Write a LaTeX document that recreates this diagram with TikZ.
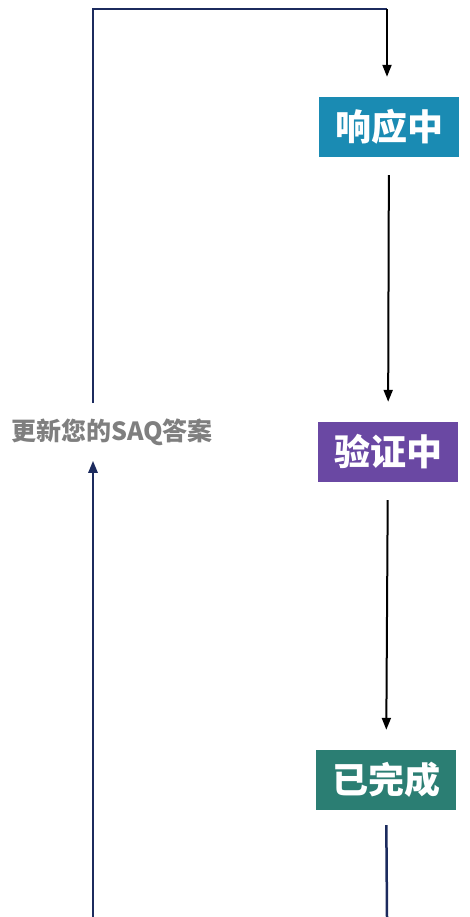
\documentclass[tikz,border=0pt]{standalone}
\usepackage{fontspec}
\newfontfamily\cjk{Noto Sans CJK SC}
\usetikzlibrary{positioning,arrows.meta}

\definecolor{respblue}{HTML}{1A8BB3}
\definecolor{verpurple}{HTML}{6A48A3}
\definecolor{donegreen}{HTML}{2B7E73}
\definecolor{navyline}{HTML}{1C2B5E}
\definecolor{labelgrey}{HTML}{7F7F7F}

\begin{document}
\begin{tikzpicture}[
    x=1pt, y=-1pt,
    state/.style={fill=#1, text=white, minimum width=140pt, minimum height=60pt, inner sep=0pt, font=\cjk\bfseries\fontsize{36}{40}\selectfont},
    flow/.style={line width=2pt, black, -{Triangle[width=9pt,length=12pt]}, shorten >=20pt, shorten <=18pt},
    back/.style={line width=2.5pt, navyline},
    tip/.style={-{Triangle[width=9pt,length=12pt]}},
]
    \useasboundingbox (0,0) rectangle (470,917);
    \node[state=respblue] (resp) at (389,127) {响应中};
    \node[state=verpurple] (verify) at (388,452) {验证中};
    \node[state=donegreen] (done) at (386,780) {已完成};
    \node[text=labelgrey, font=\cjk\bfseries\fontsize{25}{28}\selectfont, outer ysep=12pt] (update) at (112,432) {更新您的SAQ答案};
    \coordinate (leftend) at (93,917);
    \coordinate (rightend) at (387,917);
    \coordinate (corner) at (387,9);

    % main flow
    \draw[flow] (resp) -- (verify);
    \draw[flow] (verify) -- (done);
    \draw[back, shorten <=15pt] (done) -- (rightend);

    % return path
    \draw[back, tip] (leftend) -- (update.south -| leftend);
    \draw[back] (update.north -| leftend) |- (corner);
    \draw[line width=2pt, tip] (corner) -- ([yshift=20pt]resp.north -| corner);
\end{tikzpicture}
\end{document}
